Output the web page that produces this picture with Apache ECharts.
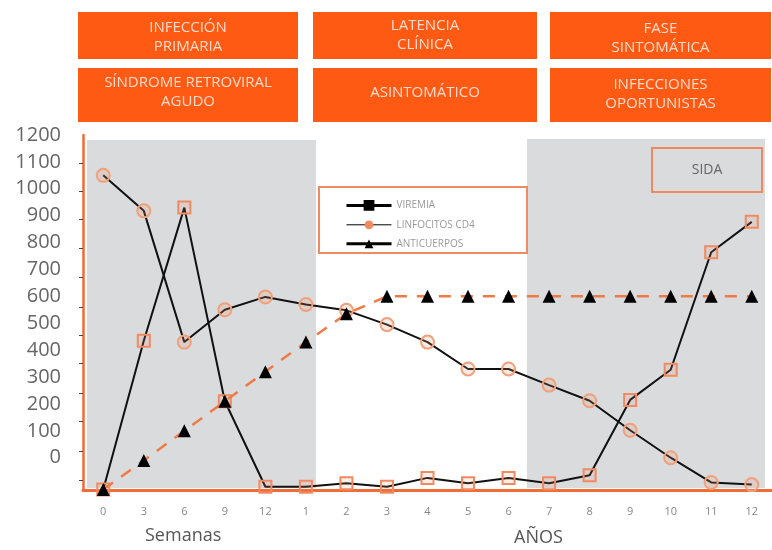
<!DOCTYPE html>
<html>
<head>
<meta charset="utf-8">
<script src="https://cdn.jsdelivr.net/npm/echarts@6/dist/echarts.min.js"></script>
<style>
  html, body { margin: 0; padding: 0; background: #fff; }
  #container { width: 772px; height: 550px; }
</style>
</head>
<body>
<div id="container"></div>
<script>
    // categorias del eje x: semanas y luego años
    let categories = ['0', '3', '6', '9', '12', '1', '2', '3', '4', '5', '6', '7', '8', '9', '10', '11', '12'];
    let viremia = [-118, 435, 930, 210, -108, -108, -95, -108, -75, -95, -75, -95, -65, 215, 327, 764, 877];
    let linfocitos = [1050, 918, 430, 550, 598, 570, 548, 495, 430, 330, 330, 270, 212, 102, 0, -92, -100];
    let anticuerpos = [-118, -10, 100, 210, 320, 430, 535, 600, 600, 600, 600, 600, 600, 600, 600, 600, 600];
    let yLabels = [0, 100, 200, 300, 400, 500, 600, 700, 800, 900, 1000, 1100, 1200];
    let yTicks = [1095, 990, 885, 780, 670, 560, 455, 350, 240, 135, 25, -85];

    let orange = '#ff5a14';
    let font = 'Open Sans';

    // caja naranja con texto encima
    function box(x, y, w, h, text, dy) {
        return [{
            type: 'rect', z: 10,
            shape: {x: x, y: y, width: w, height: h},
            style: {fill: orange}
        }, {
            type: 'text', z: 11,
            x: x + w / 2, y: y + h / 2 + dy,
            style: {
                text: text, fill: '#fddccc', fontSize: 15, fontFamily: font, lineHeight: 19,
                align: 'center', verticalAlign: 'middle'
            }
        }];
    }

    let dom = document.getElementById("container");
    let myChart = echarts.init(dom);
    let graphics = [
        // zonas grises
        {type: 'rect', z: -1, shape: {x: 87, y: 140, width: 229, height: 348}, style: {fill: '#d9dbdd'}},
        {type: 'rect', z: -1, shape: {x: 527, y: 139, width: 238, height: 349}, style: {fill: '#d9dbdd'}},
        // caja SIDA
        {type: 'rect', z: 10, shape: {x: 652, y: 148, width: 110, height: 44}, style: {fill: 'transparent', stroke: '#ee8a62', lineWidth: 2}},
        {type: 'text', z: 11, x: 707, y: 170, style: {text: 'SIDA', fill: '#666', fontSize: 14, fontFamily: font, align: 'center', verticalAlign: 'middle'}},
        // marco de leyenda
        {type: 'rect', z: 8, shape: {x: 319, y: 187, width: 208, height: 66}, style: {fill: '#fff', stroke: '#f08a60', lineWidth: 2}},
        {type: 'text', z: 10, left: 145, top: 527, style: {text: 'Semanas', fill: '#555', fontSize: 18, fontFamily: font}},
        {type: 'text', z: 10, left: 514, top: 529, style: {text: 'AÑOS', fill: '#555', fontSize: 18, fontFamily: font}}
    ];
    graphics = graphics.concat(
        box(78, 12, 220, 47, 'INFECCIÓN\nPRIMARIA', 2),
        box(313, 12, 224, 47, 'LATENCIA\nCLÍNICA', 0),
        box(550, 12, 221, 47, 'FASE\nSINTOMÁTICA', 3),
        box(78, 68, 220, 54, 'SÍNDROME RETROVIRAL\nAGUDO', -3),
        box(313, 68, 224, 54, 'ASINTOMÁTICO', -2),
        box(550, 68, 221, 54, 'INFECCIONES\nOPORTUNISTAS', -1)
    );

    let option = {
        backgroundColor: '#fff',
        animation: false,
        grid: {left: 83, top: 135, width: 699, height: 355},
        graphic: graphics,
        legend: {
            orient: 'vertical',
            left: 340,
            top: 195,
            z: 12,
            itemGap: 9,
            itemWidth: 45,
            itemHeight: 11,
            textStyle: {fontSize: 10, color: '#999', fontFamily: font},
            data: [
                {name: 'VIREMIA', itemStyle: {color: '#000', borderColor: '#000'}, lineStyle: {color: '#000', width: 3}},
                {name: 'LINFOCITOS CD4', itemStyle: {color: '#f08a60', borderColor: '#f08a60', borderWidth: 0}, lineStyle: {color: '#000', width: 1}},
                {name: 'ANTICUERPOS', itemStyle: {color: '#000'}, lineStyle: {color: '#000', width: 3, type: 'solid'}}
            ]
        },
        xAxis: {
            type: 'category',
            data: categories,
            boundaryGap: true,
            axisLine: {onZero: false, lineStyle: {color: '#f26a35', width: 3}},
            axisTick: {alignWithLabel: true, length: 5, lineStyle: {color: '#555'}},
            axisLabel: {color: '#888', fontSize: 11, margin: 16, fontFamily: font}
        },
        yAxis: {
            type: 'value',
            min: -120,
            max: 1200,
            splitLine: {show: false},
            axisLine: {show: true, lineStyle: {color: '#f26a35', width: 2.5}},
            axisTick: {show: true, length: 4, customValues: yTicks, lineStyle: {color: '#444'}},
            axisLabel: {
                customValues: yLabels, color: '#666', fontSize: 20, margin: 22, fontFamily: font,
                formatter: function (value) {
                    return String(value);
                }
            }
        },
        series: [{
            name: 'VIREMIA',
            type: 'line',
            data: viremia,
            z: 4,
            symbol: 'rect',
            symbolSize: 12,
            lineStyle: {color: '#111', width: 2},
            itemStyle: {color: 'rgba(240,140,100,0.15)', borderColor: '#f08a60', borderWidth: 2}
        }, {
            name: 'LINFOCITOS CD4',
            type: 'line',
            data: linfocitos,
            z: 3,
            symbol: 'circle',
            symbolSize: 13,
            lineStyle: {color: '#111', width: 2},
            itemStyle: {color: 'rgba(240,150,110,0.2)', borderColor: '#f0a07a', borderWidth: 2}
        }, {
            name: 'ANTICUERPOS',
            type: 'line',
            data: anticuerpos,
            z: 5,
            symbol: 'triangle',
            symbolSize: 13,
            lineStyle: {color: '#f07a45', width: 2.5, type: [12, 10]},
            itemStyle: {color: '#000'}
        }]
    };
    myChart.setOption(option, true);
</script>
</body>
</html>
